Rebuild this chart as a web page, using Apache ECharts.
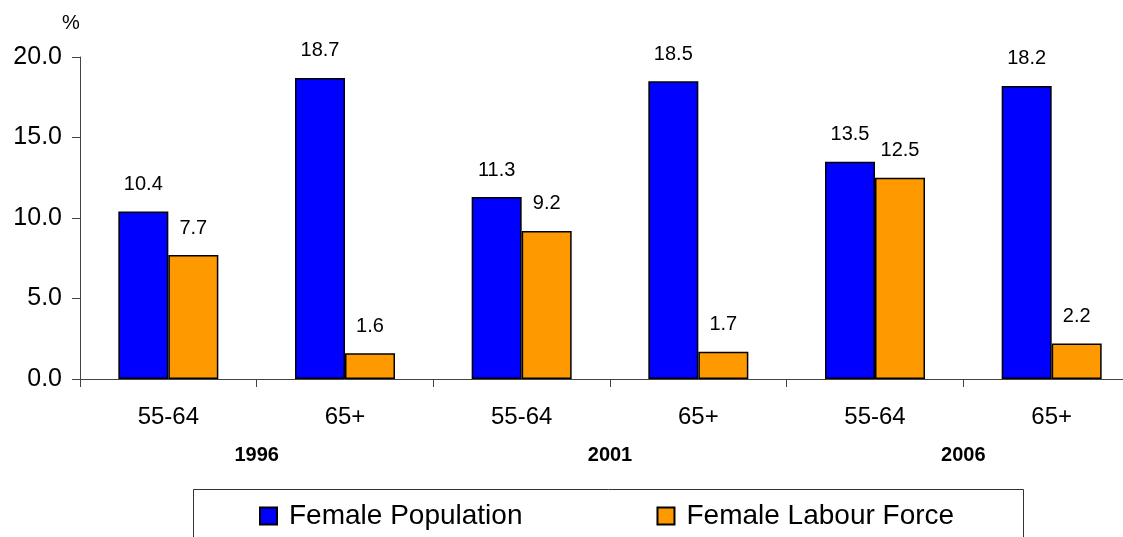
<!DOCTYPE html>
<html>
<head>
<meta charset="utf-8">
<script src="https://cdn.jsdelivr.net/npm/echarts@6/dist/echarts.min.js"></script>
<style>
html,body{margin:0;padding:0;background:#fff;overflow:hidden;width:1123px;height:537px;}
#c{width:1160px;height:537px;}
</style>
</head>
<body>
<div id="c"></div>
<script>
var categories = ['55-64', '65+', '55-64', '65+', '55-64', '65+'];
var years = ['1996', '2001', '2006'];
var femalePopulation = [10.4, 18.7, 11.3, 18.5, 13.5, 18.2];
var femaleLabourForce = [7.7, 1.6, 9.2, 1.7, 12.5, 2.2];
var yTicks = { min: 0, max: 20, interval: 5 };

var FONT = 'Arial, "Liberation Sans", sans-serif';
var chart = echarts.init(document.getElementById('c'), null, { renderer: 'canvas' });

var labelCfg = {
  show: true,
  position: 'top',
  distance: 17,
  color: '#000',
  fontSize: 20,
  fontFamily: FONT,
  formatter: function (p) { return p.value.toFixed(1); }
};

chart.setOption({
  animation: false,
  backgroundColor: '#fff',
  textStyle: { fontFamily: FONT },
  grid: { left: 80, top: 57, height: 322, width: 1060, containLabel: false },
  legend: {
    left: 259,
    top: 502,
    padding: 0,
    itemWidth: 17,
    itemHeight: 17,
    itemGap: 134,
    icon: 'rect',
    textStyle: { fontSize: 28, color: '#000', fontFamily: FONT, padding: [2, 0, 0, 7] },
    data: ['Female Population', 'Female Labour Force']
  },
  graphic: [
    {
      type: 'rect',
      shape: { x: 193.5, y: 489.5, width: 830, height: 60 },
      style: { fill: 'none', stroke: '#333', lineWidth: 1 },
      z: 0
    },
    {
      type: 'text',
      x: 71,
      y: 23,
      style: { text: '%', fontSize: 20, fontFamily: FONT, fill: '#000', align: 'center', verticalAlign: 'middle' }
    }
  ],
  xAxis: [
    {
      type: 'category',
      data: categories,
      axisLine: { lineStyle: { color: '#444', width: 1 } },
      axisTick: { show: true, length: 8, lineStyle: { color: '#444' } },
      axisLabel: { fontSize: 24, color: '#000', margin: 26, fontFamily: FONT }
    },
    {
      type: 'category',
      data: years,
      position: 'bottom',
      gridIndex: 0,
      axisLine: { show: false },
      axisTick: { show: false },
      axisLabel: { fontSize: 20, fontWeight: 'bold', color: '#000', margin: 66, fontFamily: FONT }
    }
  ],
  yAxis: {
    type: 'value',
    min: yTicks.min,
    max: yTicks.max,
    interval: yTicks.interval,
    splitLine: { show: false },
    axisLine: { show: true, lineStyle: { color: '#444', width: 1 } },
    axisTick: { show: true, length: 8, lineStyle: { color: '#444' } },
    axisLabel: {
      fontSize: 25, color: '#000', margin: 18, fontFamily: FONT,
      formatter: function (v) { return v.toFixed(1); }
    }
  },
  series: [
    {
      name: 'Female Population',
      type: 'bar',
      xAxisIndex: 0,
      data: femalePopulation,
      barWidth: 50,
      barGap: '0%',
      itemStyle: { color: '#0000FF', borderColor: '#000', borderWidth: 1.5 },
      label: labelCfg
    },
    {
      name: 'Female Labour Force',
      type: 'bar',
      xAxisIndex: 0,
      data: femaleLabourForce,
      barWidth: 50,
      barGap: '0%',
      itemStyle: { color: '#FF9900', borderColor: '#000', borderWidth: 1.5 },
      label: labelCfg
    }
  ]
});
</script>
</body>
</html>
